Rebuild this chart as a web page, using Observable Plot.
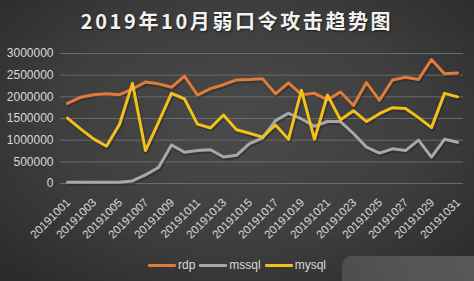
<!DOCTYPE html>
<html>
<head>
<meta charset="utf-8">
<script src="https://cdn.jsdelivr.net/npm/d3@7"></script>
<script src="https://cdn.jsdelivr.net/npm/@observablehq/plot@0.6"></script>
<style>
  html, body { margin: 0; padding: 0; background: #2c2c2c; }
  #wrap {
    position: relative; width: 474px; height: 281px; overflow: hidden;
    background: radial-gradient(ellipse 70% 75% at 50% 45%, #4a4a4a 0%, #3e3e3e 55%, #2a2a2a 100%);
    font-family: "Liberation Sans", Arial, sans-serif;
  }
  #title {
    position: absolute; left: 0; top: 6px; width: 474px; text-align: center;
    font-family: "Noto Sans CJK SC", "Liberation Sans", sans-serif;
    font-size: 20px; font-weight: bold; color: #f2f2f2; letter-spacing: 2.6px;
    text-shadow: 1px 1px 2px rgba(0,0,0,0.6);
  }
  #chart { position: absolute; left: 0; top: 42px; }
  #legend {
    position: absolute; left: 0; top: 258px; width: 474px; text-align: center;
    font-size: 12px; color: #d9d9d9; white-space: nowrap;
  }
  #legend span.item { display: inline-block; margin: 0 2px; }
  #legend span.sw { display: inline-block; width: 28px; height: 3px; vertical-align: middle; margin-right: 2px; border-radius: 1px; }
  #wm {
    position: absolute; left: 342px; top: 256px; width: 140px; height: 30px;
    background: linear-gradient(90deg, #525252 0%, #5a5a5a 40%, #606060 100%);
    border-radius: 10px 0 0 0; opacity: 0.85;
  }
</style>
</head>
<body>
<div id="wrap">
  <div id="title">2019年10月弱口令攻击趋势图</div>
  <div id="chart"></div>
  <div id="wm"></div>
  <div id="legend"></div>
</div>
<script>
// Dates (day of October 2019)
const days = d3.range(1, 32);
const dateLabels = days.map(d => "201910" + String(d).padStart(2, "0"));
const seriesNames = ["rdp", "mssql", "mysql"];
const seriesColors = ["#e07b3c", "#a8a8a8", "#f3c01c"];

const rdp = [1850000, 1990000, 2050000, 2070000, 2050000, 2180000, 2340000, 2300000, 2220000, 2480000,
  2040000, 2190000, 2280000, 2390000, 2400000, 2420000, 2070000, 2320000, 2050000, 2080000,
  1930000, 2110000, 1800000, 2330000, 1920000, 2390000, 2450000, 2400000, 2860000, 2530000, 2550000];
const mssql = [30000, 30000, 30000, 30000, 30000, 60000, 200000, 370000, 890000, 720000,
  760000, 780000, 610000, 650000, 920000, 1050000, 1450000, 1620000, 1490000, 1320000,
  1430000, 1430000, 1150000, 840000, 700000, 800000, 760000, 1000000, 610000, 1020000, 950000];
const mysql = [1510000, 1260000, 1030000, 860000, 1360000, 2310000, 760000, 1410000, 2080000, 1950000,
  1370000, 1280000, 1580000, 1240000, 1160000, 1070000, 1350000, 1020000, 2150000, 1020000,
  2040000, 1470000, 1680000, 1430000, 1610000, 1750000, 1730000, 1520000, 1290000, 2080000, 2000000];
const yTicks = [0, 500000, 1000000, 1500000, 2000000, 2500000, 3000000];
const xTicks = days.filter(d => d % 2 === 1);

const valuesBySeries = {rdp, mssql, mysql};
const data = seriesNames.flatMap(s => days.map((d, i) => ({series: s, day: d, label: dateLabels[i], value: valuesBySeries[s][i]})));

const chart = Plot.plot({
  width: 474,
  height: 210,
  marginLeft: 67,
  marginRight: 17,
  marginTop: 11,
  marginBottom: 69,
  style: {background: "transparent", color: "#d9d9d9", fontSize: "12px", fontFamily: "'Liberation Sans', Arial, sans-serif", overflow: "visible"},
  x: {domain: [1, 31], label: null},
  y: {domain: [0, 3000000], label: null},
  color: {domain: seriesNames, range: seriesColors},
  marks: [
    Plot.ruleY(yTicks, {stroke: "#6a6a6a", strokeWidth: 1, insetLeft: -7, insetRight: -6}),
    Plot.axisY({ticks: yTicks, tickFormat: d => String(d), tickSize: 0, tickPadding: 14, fill: "#d9d9d9", fontSize: 12}),
    Plot.axisX({ticks: xTicks, tickFormat: d => dateLabels[d - 1], tickRotate: -45, tickSize: 0, tickPadding: 6, dx: 1, dy: 11, fill: "#d9d9d9", fontSize: 11.5}),
    Plot.line(data, {x: "day", y: "value", z: "series", stroke: "#1a1a1a", strokeWidth: 4, strokeOpacity: 0.35, dx: 1, dy: 1.5, curve: "linear"}),
    Plot.line(data, {x: "day", y: "value", z: "series", stroke: "series", strokeWidth: 3, curve: "linear", strokeLinejoin: "round"})
  ]
});
document.getElementById("chart").appendChild(chart);

const legend = document.getElementById("legend");
seriesNames.forEach((s, i) => {
  const item = document.createElement("span");
  item.className = "item";
  const sw = document.createElement("span");
  sw.className = "sw";
  sw.style.background = seriesColors[i];
  item.appendChild(sw);
  item.appendChild(document.createTextNode(s));
  legend.appendChild(item);
});
</script>
</body>
</html>
